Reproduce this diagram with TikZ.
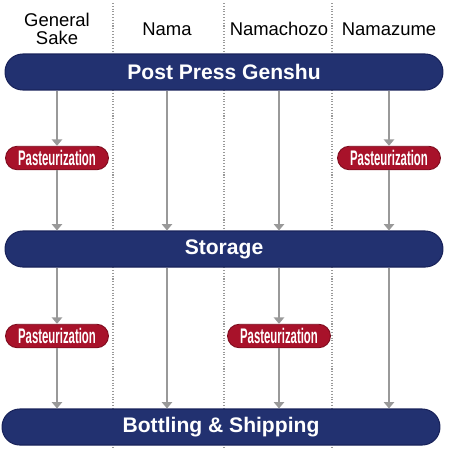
\documentclass[tikz,border=0pt]{standalone}
\usepackage{fontspec}
\setmainfont{Liberation Sans}
\newfontfamily\narrowfont[FakeStretch=0.54]{Liberation Sans}
\usetikzlibrary{arrows.meta}
\definecolor{navy}{HTML}{223170}
\definecolor{navyline}{HTML}{18225A}
\definecolor{wine}{HTML}{A8122A}
\definecolor{wineline}{HTML}{7E0C1E}
\definecolor{flowgray}{HTML}{999999}
\begin{document}
\begin{tikzpicture}[x=0.02cm, y=-0.02cm,
    every text node part/.style={align=center},
    stagebar/.style={draw=navyline, fill=navy, line width=0.6pt, rounded corners=0.355cm, minimum width=8.76cm, minimum height=0.72cm, inner sep=0pt, text=white, font=\fontsize{12}{12}\selectfont\bfseries},
    heatpill/.style={draw=wineline, fill=wine, line width=0.5pt, rounded corners=0.235cm, minimum width=2.06cm, minimum height=0.47cm, inner sep=0pt, text=white, font=\fontsize{12}{12}\selectfont\narrowfont\bfseries},
    collabel/.style={font=\fontsize{10.5}{9.8}\selectfont},
    flow/.style={draw=flowgray, line width=0.85pt, -{Triangle[width=5.8pt, length=3.6pt]}},
    divider/.style={draw=flowgray, densely dotted, line width=0.6pt}]
        \useasboundingbox (0,0) rectangle (450,450);

        \coordinate(general) at (57,0);
        \coordinate(nama) at (167,0);
        \coordinate(chozo) at (279,0);
        \coordinate(zume) at (389,0);

        \draw[divider] (113,3) -- (113,450);
        \draw[divider] (224,3) -- (224,450);
        \draw[divider] (332,3) -- (332,450);

        \node(Lgeneral) at (57,29)[collabel]{General\\Sake};
        \node(Lnama) at (167,29)[collabel]{Nama};
        \node(Lchozo) at (279,29)[collabel]{Namachozo};
        \node(Lzume) at (389,29)[collabel]{Namazume};

        \node(press) at (224,72)[stagebar]{Post Press Genshu};
        \node(store) at (224,249)[stagebar]{Storage};
        \node(bottle) at (221,427)[stagebar]{Bottling \& Shipping};

        \node(pasteurA) at (57,158)[heatpill]{Pasteurization};
        \node(pasteurB) at (389,158)[heatpill]{Pasteurization};
        \node(pasteurC) at (57,336)[heatpill]{Pasteurization};
        \node(pasteurD) at (279,336)[heatpill]{Pasteurization};

        \draw[flow] (press.south -| general) -- (pasteurA);
        \draw[flow] (pasteurA) -- (store.north -| general);
        \draw[flow] (press.south -| nama) -- (store.north -| nama);
        \draw[flow] (press.south -| chozo) -- (store.north -| chozo);
        \draw[flow] (press.south -| zume) -- (pasteurB);
        \draw[flow] (pasteurB) -- (store.north -| zume);

        \draw[flow] (store.south -| general) -- (pasteurC);
        \draw[flow] (pasteurC) -- (bottle.north -| general);
        \draw[flow] (store.south -| nama) -- (bottle.north -| nama);
        \draw[flow] (store.south -| chozo) -- (pasteurD);
        \draw[flow] (pasteurD) -- (bottle.north -| chozo);
        \draw[flow] (store.south -| zume) -- (bottle.north -| zume);
    \end{tikzpicture}
\end{document}
